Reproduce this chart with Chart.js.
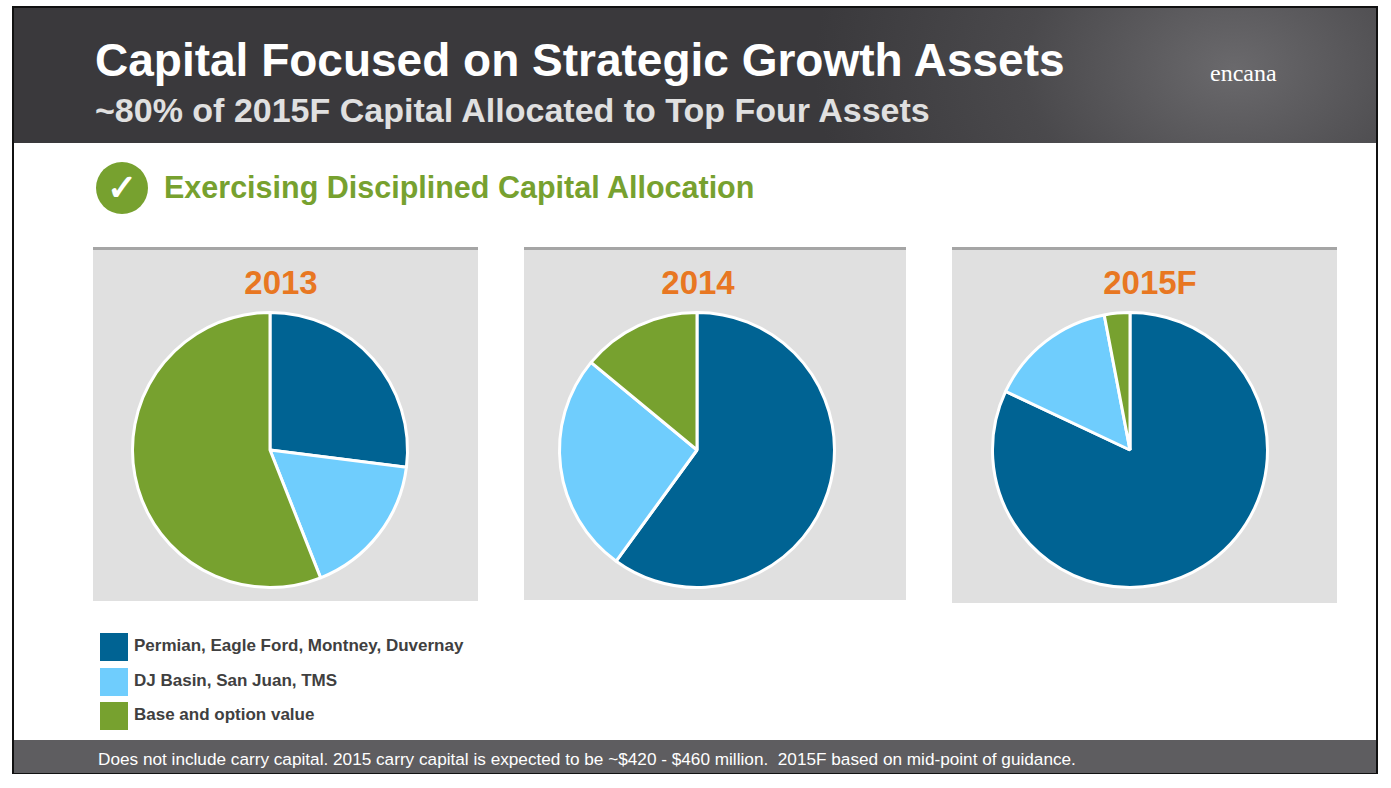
<!DOCTYPE html>
<html><head><meta charset="utf-8">
<script src="https://cdn.jsdelivr.net/npm/chart.js@4/dist/chart.umd.min.js"></script>
<style>
body{margin:0;width:1391px;height:788px;background:#fff;font-family:"Liberation Sans",Arial,sans-serif;position:relative;overflow:hidden}
.frame{position:absolute;left:12px;top:6px;width:1366px;height:768px;border:2px solid #111;box-sizing:border-box}
.hdr{position:absolute;left:14px;top:8px;width:1362px;height:135px;background:radial-gradient(ellipse 420px 300px at 1220px 60px,#6a696c 0%,#4a494c 50%,#3a393c 100%)}
.hdr h1{position:absolute;left:81px;top:29px;margin:0;color:#fff;font-size:46px;font-weight:bold;line-height:1}
.hdr h2{position:absolute;left:81px;top:85px;margin:0;color:#e0e0e0;font-size:34px;font-weight:bold;line-height:1}
.logo{position:absolute;left:1196px;top:52px;color:#fff;font-size:24px;font-family:"Liberation Serif",serif}
.ftr{position:absolute;left:14px;top:740px;width:1362px;height:33px;background:#5e5d60;color:#fff;font-size:17.2px;line-height:38px;padding-left:84px;box-sizing:border-box}
.chk{position:absolute;left:96px;top:162px;width:52px;height:52px;border-radius:50%;background:#77a12f;color:#fff;font-size:36px;text-align:center;line-height:52px;font-weight:bold}
.sub{position:absolute;left:164px;top:170px;color:#77a12f;font-size:30.5px;font-weight:bold}
.panel{position:absolute;background:#e0e0e0;border-top:3px solid #a5a5a5}
.panel .t{position:absolute;top:14px;text-align:center;color:#e87722;font-weight:bold;font-size:33px}
.panel canvas{position:absolute;top:59px}
.lg{position:absolute;left:100px;font-size:17px;font-weight:bold;color:#404040;font-family:"Liberation Sans Narrow","Liberation Sans",sans-serif}
.lg span{display:inline-block;width:28px;height:28px;vertical-align:middle;margin-right:6px}
</style></head><body>
<div class="hdr"><h1>Capital Focused on Strategic Growth Assets</h1><h2>~80% of 2015F Capital Allocated to Top Four Assets</h2><div class="logo">encana</div></div>
<div class="frame"></div>
<div class="chk">✓</div><div class="sub">Exercising Disciplined Capital Allocation</div>
<div class="panel" style="left:93px;top:247px;width:385px;height:351px"><div class="t" id="t0" style="left:0;width:376px"></div><canvas id="c0" style="left:0" width="354" height="282"></canvas></div>
<div class="panel" style="left:524px;top:247px;width:382px;height:350px"><div class="t" id="t1" style="left:0;width:348px"></div><canvas id="c1" style="left:0" width="346" height="282"></canvas></div>
<div class="panel" style="left:952px;top:247px;width:385px;height:353px"><div class="t" id="t2" style="left:0;width:396px"></div><canvas id="c2" style="left:0" width="356" height="282"></canvas></div>
<div id="lgd"></div>
<div class="ftr">Does not include carry capital. 2015 carry capital is expected to be ~$420 - $460 million.&nbsp; 2015F based on mid-point of guidance.</div>
<script>
const years=["2013","2014","2015F"];
const categories=["Permian, Eagle Ford, Montney, Duvernay","DJ Basin, San Juan, TMS","Base and option value"];
const colors=["#006393","#6fcdfd","#77a12f"];
const values2013=[27,17,56];
const values2014=[60,26,14];
const values2015F=[82,15,3];
const all=[values2013,values2014,values2015F];
const tops=[633,668,702];
document.getElementById('lgd').innerHTML=categories.map((c,i)=>`<div class="lg" style="top:${tops[i]}px"><span style="background:${colors[i]}"></span>${c}</div>`).join('');
years.forEach((y,i)=>{
 document.getElementById('t'+i).textContent=y;
 new Chart(document.getElementById('c'+i),{type:'pie',
  data:{labels:categories,datasets:[{data:all[i],backgroundColor:colors,borderColor:'#fff',borderWidth:3}]},
  options:{responsive:false,animation:false,layout:{padding:2},plugins:{legend:{display:false},tooltip:{enabled:false}}}});
});
</script></body></html>
